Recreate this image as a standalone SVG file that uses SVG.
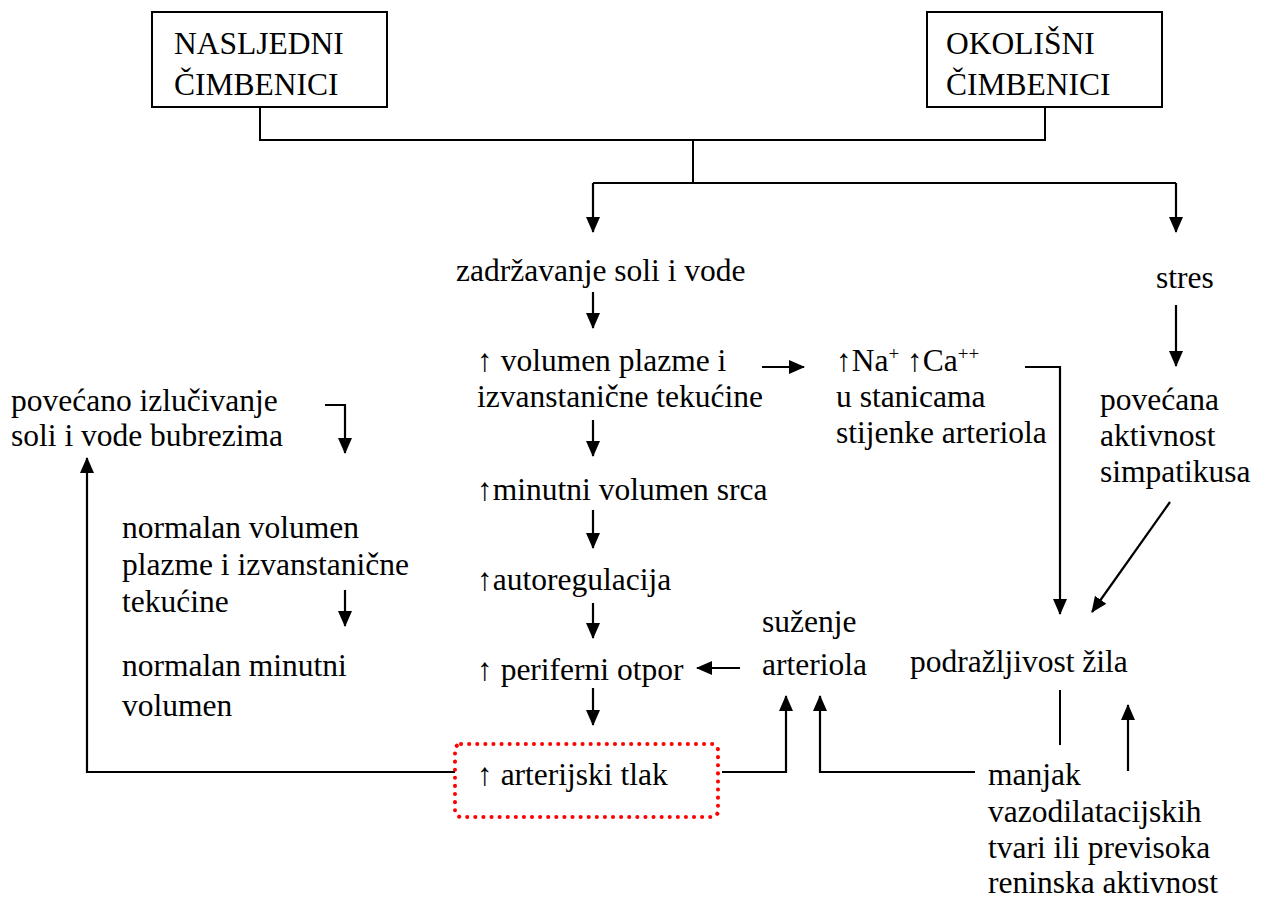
<svg xmlns="http://www.w3.org/2000/svg" width="1262" height="899" viewBox="0 0 1262 899">
<defs>
<marker id="ah" markerUnits="userSpaceOnUse" markerWidth="16" markerHeight="18" viewBox="0 0 16 18" refX="15" refY="9" orient="auto"><path d="M0,2 L16,9 L0,16 z" fill="#000"/></marker>
</defs>
<rect width="1262" height="899" fill="#fff"/>
<g id="connectors" fill="none" stroke="#000" stroke-width="2.2">
<path d="M260,107 V140 H1045 V107" stroke-width="2"/>
<path d="M693,140 V183" stroke-width="2"/>
<path d="M593,183 H1176" stroke-width="2"/>
<path d="M593,183 V232" marker-end="url(#ah)"/>
<path d="M1176,183 V232" marker-end="url(#ah)"/>
<path d="M593,292 V328" marker-end="url(#ah)"/>
<path d="M762,367 H804" marker-end="url(#ah)"/>
<path d="M1025,367 H1060 V614" marker-end="url(#ah)"/>
<path d="M593,420 V456" marker-end="url(#ah)"/>
<path d="M593,510 V548" marker-end="url(#ah)"/>
<path d="M593,603 V638" marker-end="url(#ah)"/>
<path d="M740,668 H697" marker-end="url(#ah)"/>
<path d="M593,688 V725" marker-end="url(#ah)"/>
<path d="M722,772 H786 V696" marker-end="url(#ah)"/>
<path d="M975,772 H820 V696" marker-end="url(#ah)"/>
<path d="M455,772 H87 V458" marker-end="url(#ah)"/>
<path d="M325,405 H345 V453" marker-end="url(#ah)"/>
<path d="M345,590 V626" marker-end="url(#ah)"/>
<path d="M1176,305 V366" marker-end="url(#ah)"/>
<path d="M1170,502 L1092,612" marker-end="url(#ah)"/>
<path d="M1060,690 V745" stroke-width="2"/>
<path d="M1128,771 V705" marker-end="url(#ah)"/>
</g>
<g id="n-nasljedni"><rect x="152" y="12" width="235" height="95" fill="#fff" stroke="#000" stroke-width="2"/><text font-family="Liberation Serif" font-size="31.5" x="174" y="54">NASLJEDNI</text><text font-family="Liberation Serif" font-size="31.5" x="174" y="95">ČIMBENICI</text></g>
<g id="n-okolisni"><rect x="927" y="12" width="235" height="95" fill="#fff" stroke="#000" stroke-width="2"/><text font-family="Liberation Serif" font-size="31.5" x="946" y="54">OKOLIŠNI</text><text font-family="Liberation Serif" font-size="31.5" x="946" y="95">ČIMBENICI</text></g>
<g id="n-zadrzavanje"><text font-family="Liberation Serif" font-size="31.5" x="456" y="281">zadržavanje soli i vode</text></g>
<g id="n-stres"><text font-family="Liberation Serif" font-size="31.5" x="1156" y="288">stres</text></g>
<g id="n-volumen"><text font-family="Liberation Serif" font-size="31.5" x="477" y="371">↑ volumen plazme i</text><text font-family="Liberation Serif" font-size="31.5" x="477" y="407">izvanstanične tekućine</text></g>
<g id="n-naca"><text font-family="Liberation Serif" font-size="31.5" x="836" y="371">↑Na<tspan font-size="19" dy="-11">+</tspan><tspan dy="11">  ↑Ca</tspan><tspan font-size="19" dy="-11">++</tspan></text><text font-family="Liberation Serif" font-size="31.5" x="836" y="407">u stanicama</text><text font-family="Liberation Serif" font-size="31.5" x="836" y="443">stijenke arteriola</text></g>
<g id="n-simpatikus"><text font-family="Liberation Serif" font-size="31.5" x="1100" y="410">povećana</text><text font-family="Liberation Serif" font-size="31.5" x="1100" y="446">aktivnost</text><text font-family="Liberation Serif" font-size="31.5" x="1100" y="482">simpatikusa</text></g>
<g id="n-izlucivanje"><text font-family="Liberation Serif" font-size="31.5" x="11" y="411">povećano izlučivanje</text><text font-family="Liberation Serif" font-size="31.5" x="11" y="446">soli i vode bubrezima</text></g>
<g id="n-minutni"><text font-family="Liberation Serif" font-size="31.5" x="477" y="500">↑minutni volumen srca</text></g>
<g id="n-normalan-vol"><text font-family="Liberation Serif" font-size="31.5" x="122" y="538">normalan volumen</text><text font-family="Liberation Serif" font-size="31.5" x="122" y="575">plazme i izvanstanične</text><text font-family="Liberation Serif" font-size="31.5" x="122" y="612">tekućine</text></g>
<g id="n-autoregulacija"><text font-family="Liberation Serif" font-size="31.5" x="477" y="590">↑autoregulacija</text></g>
<g id="n-suzenje"><text font-family="Liberation Serif" font-size="31.5" x="762" y="632">suženje</text><text font-family="Liberation Serif" font-size="31.5" x="762" y="675">arteriola</text></g>
<g id="n-periferni"><text font-family="Liberation Serif" font-size="31.5" x="477" y="680">↑ periferni otpor</text></g>
<g id="n-normalan-min"><text font-family="Liberation Serif" font-size="31.5" x="122" y="676">normalan minutni</text><text font-family="Liberation Serif" font-size="31.5" x="122" y="716">volumen</text></g>
<g id="n-podrazljivost"><text font-family="Liberation Serif" font-size="31.5" x="910" y="672">podražljivost žila</text></g>
<g id="n-tlak"><rect x="455" y="744" width="263" height="73" rx="6" fill="none" stroke="#f00" stroke-width="4" stroke-dasharray="0.1 8" stroke-linecap="round"/><text font-family="Liberation Serif" font-size="31.5" x="477" y="785">↑ arterijski tlak</text></g>
<g id="n-manjak"><text font-family="Liberation Serif" font-size="31.5" x="988" y="785">manjak</text><text font-family="Liberation Serif" font-size="31.5" x="988" y="822">vazodilatacijskih</text><text font-family="Liberation Serif" font-size="31.5" x="988" y="858">tvari ili previsoka</text><text font-family="Liberation Serif" font-size="31.5" x="988" y="893">reninska aktivnost</text></g>
</svg>
